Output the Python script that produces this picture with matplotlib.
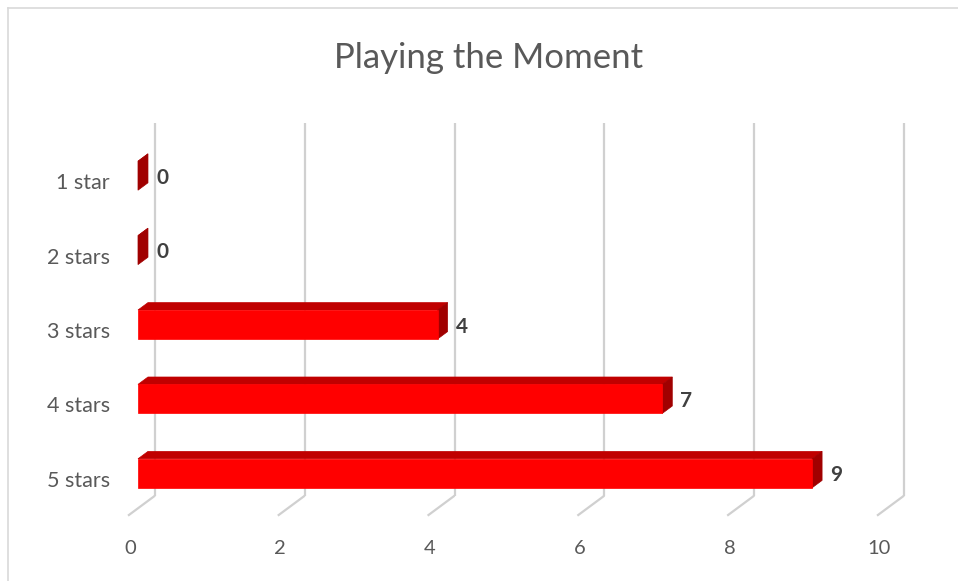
import matplotlib
matplotlib.use("Agg")
import matplotlib.pyplot as plt
from matplotlib.patches import Polygon, Rectangle

# ---- data ----
categories = ["1 star", "2 stars", "3 stars", "4 stars", "5 stars"]
values = [0, 0, 4, 7, 9]
x_ticks = [0, 2, 4, 6, 8, 10]
title = "Playing the Moment"

# ---- style ----
FONT = "Lato"
TEXT_GRAY = "#595959"
LABEL_GRAY = "#404040"
GRID = "#D0D0D0"
FRONT = "#FF0000"
TOP = "#C00000"
SIDE = "#A00000"

W, H = 958, 581
fig = plt.figure(figsize=(W / 100, H / 100), dpi=100)
ax = fig.add_axes([0, 0, 1, 1])

# pixel mapping of front plane: x_pix = 128 + 74.9*v ; y_pix = 183.1 + 74.4*i
px_per_x, x0_pix = 74.9, 128.0
px_per_y, y0_pix = 74.4, 183.1
ax.set_xlim(-x0_pix / px_per_x, (W - x0_pix) / px_per_x)
ax.set_ylim((H - y0_pix) / px_per_y, -y0_pix / px_per_y)
ax.axis("off")

# depth vector (full depth) in data units
DX = 27 / px_per_x
DY = -20 / px_per_y
d_front, d_back = 0.37, 0.74
half_h = 14.5 / px_per_y
wall_top, wall_bot = -0.54, 4.47

# back wall gridlines and floor diagonals
for t in x_ticks:
    ax.plot([t + DX, t + DX], [wall_top + DY, wall_bot + DY], color=GRID, lw=1.6,
            solid_capstyle="butt", zorder=1)
    ax.plot([t, t + DX], [wall_bot, wall_bot + DY], color=GRID, lw=1.6,
            solid_capstyle="butt", zorder=1)
    ax.text(t + 0.03, 4.91, str(t), ha="center", va="center", fontsize=14.5,
            color=TEXT_GRAY, family=FONT)

# bars
for i, (cat, v) in enumerate(zip(categories, values)):
    fx, fy = d_front * DX, d_front * DY
    bx, by = d_back * DX, d_back * DY
    y_top, y_bot = i - half_h, i + half_h
    # top face
    top = Polygon([(fx, y_top + fy), (v + fx, y_top + fy), (v + bx, y_top + by), (bx, y_top + by)],
                  closed=True, facecolor=TOP, edgecolor=TOP, lw=0.5, zorder=3)
    # side face (right)
    side = Polygon([(v + fx, y_top + fy), (v + bx, y_top + by), (v + bx, y_bot + by), (v + fx, y_bot + fy)],
                   closed=True, facecolor=SIDE, edgecolor=SIDE, lw=0.5, zorder=3)
    ax.add_patch(top)
    ax.add_patch(side)
    if v > 0:
        front = Rectangle((fx, y_top + fy), v, 2 * half_h, facecolor=FRONT,
                          edgecolor=FRONT, lw=0.5, zorder=4)
        ax.add_patch(front)
    ax.annotate(str(v), xy=(v + fx, i + fy), xytext=(13, -1.5), textcoords="offset points",
                ha="left", va="center", fontsize=15, fontweight="bold",
                color=LABEL_GRAY, family=FONT, zorder=5)
    ax.text(-0.24, i, cat, ha="right", va="center", fontsize=15.5,
            color=TEXT_GRAY, family=FONT)

# title
fig.text(489 / W, 1 - 68 / H, title, ha="center", va="baseline", fontsize=25,
         color=TEXT_GRAY, family=FONT)

# chart border (open at right/bottom like the crop)
fig.add_artist(plt.Line2D([8 / W, 1], [1 - 8 / H, 1 - 8 / H], color="#D9D9D9", lw=1.2,
                          transform=fig.transFigure))
fig.add_artist(plt.Line2D([8 / W, 8 / W], [0, 1 - 8 / H], color="#D9D9D9", lw=1.2,
                          transform=fig.transFigure))

fig.savefig("out.png", dpi=100)
